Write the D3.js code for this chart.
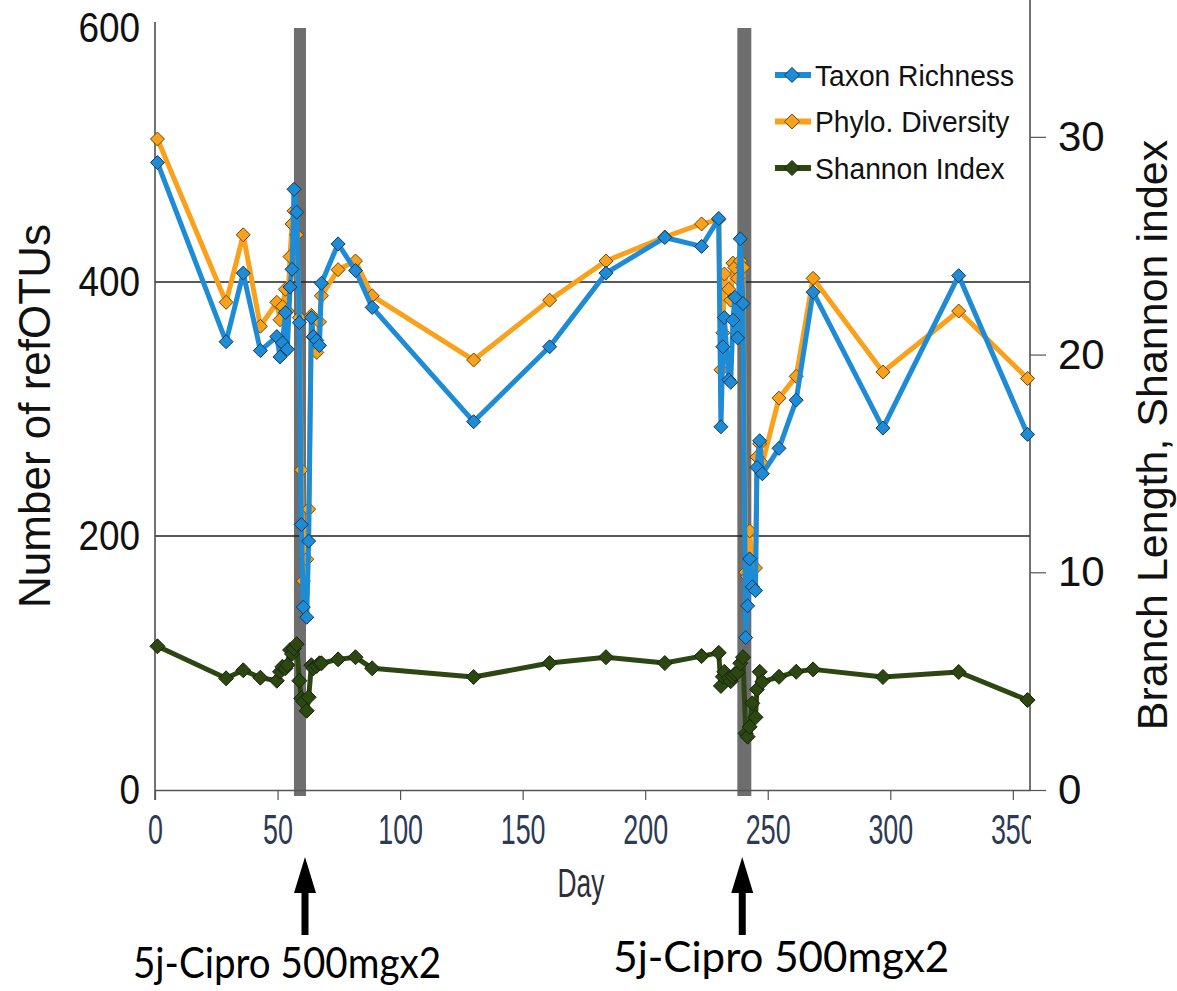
<!DOCTYPE html>
<html>
<head>
<meta charset="utf-8">
<script src="https://cdn.jsdelivr.net/npm/d3@7"></script>
<style>
  body { margin: 0; background: #fff; }
  svg text { font-family: "Liberation Sans", Arial, sans-serif; }
</style>
</head>
<body>
<script>
// sampling days (shared by the three series)
const days = [1, 29, 36, 43, 49.7, 51, 52, 53.2, 54, 55.1, 55.9, 56.7, 57.8, 58.9, 59.7, 60.5, 61.9, 62.7, 63.8, 64.6, 66, 67.1, 67.9, 74.7, 81.8, 88.6,
  130, 161, 184, 208, 223, 230,
  230.9, 231.7, 232.3, 234.1, 234.9, 235.8, 236.6, 237.7, 238.8, 239.9, 241, 241.8, 242.6, 243.7, 245, 245.6, 246.7, 247.8, 254.6, 261.6, 268.5, 297, 327.9, 356];

// left axis (number of refOTUs)
const taxonRichness = [494, 353, 407, 346, 357, 341, 352, 376, 347, 396, 410, 473, 455, 368, 209, 144, 136, 196, 372, 357, 354, 350, 399, 430, 409, 380,
  290, 349, 407, 435, 428, 450,
  286, 349, 372, 323, 321, 370, 388, 356, 434, 383, 120, 145, 182, 160, 157, 254, 275, 249, 269, 307, 392, 285, 405, 280];

// right axis (branch length, shannon index)
const phyloDiversity = [29.9, 22.4, 25.5, 21.3, 22.4, 21.6, 22.2, 23.0, 22.0, 24.5, 26.0, 26.6, 25.5, 21.7, 14.7, 9.6, 10.6, 12.9, 21.8, 20.8, 20.1, 21.5, 22.7, 23.9, 24.3, 22.7,
  19.75, 22.5, 24.3, 25.4, 26.0, 26.2,
  19.3, 21.0, 23.7, 23.0, 22.5, 24.2, 24.0, 23.5, 24.3, 24.0, 10.0, 9.8, 11.9, 10.3, 10.2, 15.3, 15.9, 15.0, 18.0, 19.0, 23.5, 19.2, 22.0, 18.9];

const shannonIndex = [6.6, 5.13, 5.5, 5.16, 5.02, 5.43, 5.66, 5.59, 5.74, 6.43, 6.25, 6.5, 6.7, 5.02, 4.21, 4.06, 3.64, 4.26, 5.73, 5.59, 5.7, 5.82, 5.82, 6.0, 6.1, 5.59,
  5.19, 5.83, 6.1, 5.83, 6.15, 6.3,
  4.78, 5.2, 5.43, 5.13, 5.0, 5.2, 5.33, 5.4, 5.82, 6.1, 2.6, 2.45, 2.9, 3.98, 3.34, 4.62, 5.43, 4.97, 5.2, 5.43, 5.54, 5.19, 5.42, 4.13];

const dayTicks = [0, 50, 100, 150, 200, 250, 300, 350];
const leftTicks = [0, 200, 400, 600];
const rightTicks = [0, 10, 20, 30];
const gridValues = [200, 400];

// antibiotic courses: shaded days and arrow positions
const ciproBands = [[56.7, 61.6], [237.6, 243.3]];
const arrowDays = [61.2, 239.6];
const ciproLabel = "5j-Cipro 500mgx2";

const seriesNames = ["Taxon Richness", "Phylo. Diversity", "Shannon Index"];
const seriesColors = ["#1e8bd6", "#f9a11b", "#2d4713"];
const markerStroke = ["#0e3a58", "#6a4608", "#16240a"];

function createChart() {
  const svg = d3.select("body").append("svg")
    .attr("width", 1177)
    .attr("height", 991);

  const x = d3.scaleLinear().domain([0, 357]).range([155, 1030]);
  const yLeft = d3.scaleLinear().domain([0, 600]).range([790, 28]);
  const yRight = d3.scaleLinear().domain([0, 35]).range([790, 28]);

  // grey bands for the cipro courses
  svg.selectAll(".band")
    .data(ciproBands)
    .enter().append("rect")
    .attr("class", "band")
    .attr("x", d => x(d[0]))
    .attr("width", d => x(d[1]) - x(d[0]))
    .attr("y", yLeft(600))
    .attr("height", yLeft(0) - yLeft(600) + 6)
    .attr("fill", "#6e6e6e");

  // horizontal grid lines
  svg.selectAll(".grid")
    .data(gridValues)
    .enter().append("line")
    .attr("x1", x(0)).attr("x2", x(357))
    .attr("y1", d => yLeft(d)).attr("y2", d => yLeft(d))
    .attr("stroke", "#222").attr("stroke-width", 1.5);

  // axis lines
  svg.append("line").attr("x1", x(0)).attr("x2", x(0)).attr("y1", 22).attr("y2", 800)
    .attr("stroke", "#444").attr("stroke-width", 1.5);
  svg.append("line").attr("x1", x(357)).attr("x2", x(357)).attr("y1", 0).attr("y2", 790)
    .attr("stroke", "#444").attr("stroke-width", 1.5);

  // x axis, last label clipped at the plot edge like the original
  svg.append("clipPath").attr("id", "xclip")
    .append("rect").attr("x", 100).attr("y", -20).attr("width", 931).attr("height", 100);

  const xAxis = svg.append("g")
    .attr("transform", "translate(0,790)")
    .attr("clip-path", "url(#xclip)")
    .call(d3.axisBottom(x).tickValues(dayTicks).tickSize(10).tickSizeOuter(0).tickPadding(14));
  xAxis.select(".domain").attr("stroke", "#555").attr("stroke-width", 1.5);
  xAxis.selectAll(".tick line").attr("stroke", "#555").attr("stroke-width", 1.2);
  xAxis.selectAll(".tick text")
    .attr("font-size", 42)
    .attr("fill", "#2c3a55")
    .attr("transform", "scale(0.64,1)");

  // left axis
  const leftAxis = svg.append("g")
    .attr("transform", `translate(${x(0)},0)`)
    .call(d3.axisLeft(yLeft).tickValues(leftTicks).tickSize(0).tickPadding(17));
  leftAxis.select(".domain").remove();
  leftAxis.selectAll(".tick text")
    .attr("font-size", 42)
    .attr("fill", "#111")
    .attr("transform", "scale(0.88,1)");

  // right axis
  const rightAxis = svg.append("g")
    .attr("transform", `translate(${x(357)},0)`)
    .call(d3.axisRight(yRight).tickValues(rightTicks).tickSize(16).tickPadding(12));
  rightAxis.select(".domain").remove();
  rightAxis.selectAll(".tick line").attr("stroke", "#555").attr("stroke-width", 1.2);
  rightAxis.selectAll(".tick text")
    .attr("font-size", 42)
    .attr("fill", "#111");

  // axis titles
  svg.append("text")
    .attr("transform", "translate(35,416) rotate(-90)")
    .attr("text-anchor", "middle").attr("dy", "0.35em")
    .attr("font-size", 44).attr("fill", "#111")
    .text("Number of refOTUs");

  svg.append("text")
    .attr("transform", "translate(1152,435) rotate(-90)")
    .attr("text-anchor", "middle").attr("dy", "0.35em")
    .attr("font-size", 43).attr("fill", "#111")
    .text("Branch Length, Shannon index");

  svg.append("text")
    .attr("transform", "translate(581,897) scale(0.66,1)")
    .attr("text-anchor", "middle")
    .attr("font-size", 40).attr("fill", "#2c2f3a")
    .text("Day");

  // series: green first, blue on top
  const series = [
    { values: shannonIndex, y: yRight, idx: 2 },
    { values: phyloDiversity, y: yRight, idx: 1 },
    { values: taxonRichness, y: yLeft, idx: 0 }
  ];

  const diamond = r => `M0,${-r}L${r},0L0,${r}L${-r},0Z`;

  series.forEach(s => {
    const pts = days.map((d, i) => ({ day: d, v: s.values[i] }));
    const line = d3.line().x(d => x(d.day)).y(d => s.y(d.v));

    svg.append("path")
      .datum(pts)
      .attr("d", line)
      .attr("fill", "none")
      .attr("stroke", seriesColors[s.idx])
      .attr("stroke-width", 5)
      .attr("stroke-linejoin", "round");

    svg.append("g").selectAll("path")
      .data(pts)
      .enter().append("path")
      .attr("transform", d => `translate(${x(d.day)},${s.y(d.v)})`)
      .attr("d", diamond(s.idx === 2 ? 7.5 : 7))
      .attr("fill", seriesColors[s.idx])
      .attr("stroke", markerStroke[s.idx])
      .attr("stroke-width", 1);
  });

  // legend
  const legend = svg.append("g").attr("transform", "translate(775,75)");
  const rows = legend.selectAll("g")
    .data(seriesNames)
    .enter().append("g")
    .attr("transform", (d, i) => `translate(0,${i * 46.5})`);
  rows.append("line")
    .attr("x1", 0).attr("x2", 36)
    .attr("stroke", (d, i) => seriesColors[i])
    .attr("stroke-width", 6);
  rows.append("path")
    .attr("transform", "translate(17,0)")
    .attr("d", diamond(7.5))
    .attr("fill", (d, i) => seriesColors[i])
    .attr("stroke", (d, i) => markerStroke[i]);
  rows.append("text")
    .attr("transform", "translate(40,0) scale(0.94,1)")
    .attr("dy", "0.36em")
    .attr("font-size", 30)
    .attr("fill", "#111")
    .text(d => d);

  // arrows + labels under the axis
  const arrow = "M0,0L11,36L3.5,36L3.5,78L-3.5,78L-3.5,36L-11,36Z";
  svg.selectAll(".arrow")
    .data(arrowDays)
    .enter().append("path")
    .attr("class", "arrow")
    .attr("transform", d => `translate(${x(d)},857)`)
    .attr("d", arrow)
    .attr("fill", "#000");

  const labelShift = [-18, 39];
  const labelBase = [978, 972];
  const labelWidth = [308, 336];
  svg.selectAll(".cipro")
    .data(arrowDays)
    .enter().append("text")
    .attr("class", "cipro")
    .attr("x", (d, i) => x(d) + labelShift[i] - labelWidth[i] / 2)
    .attr("y", (d, i) => labelBase[i])
    .attr("textLength", (d, i) => labelWidth[i])
    .attr("lengthAdjust", "spacingAndGlyphs")
    .style("font-family", "Lato, 'Open Sans', sans-serif")
    .attr("font-size", 42)
    .attr("fill", "#000")
    .text(ciproLabel);
}

document.addEventListener('DOMContentLoaded', createChart);
</script>
</body>
</html>
